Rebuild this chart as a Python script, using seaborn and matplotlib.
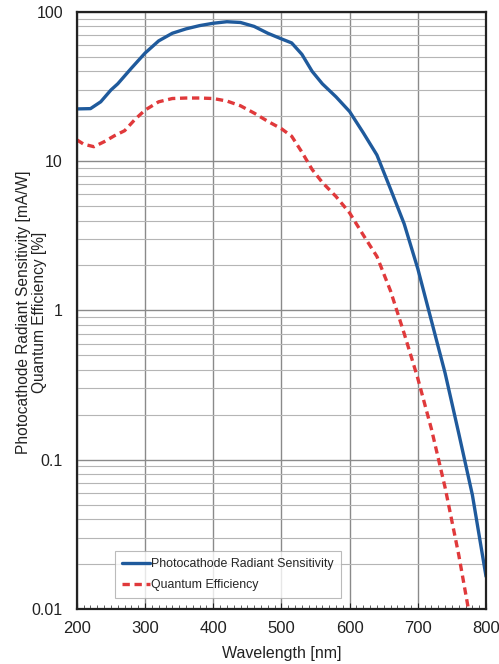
import numpy as np
import pandas as pd
import matplotlib
matplotlib.use("Agg")
import matplotlib.pyplot as plt
import seaborn as sns
from matplotlib.ticker import MultipleLocator, LogLocator, NullFormatter, FixedLocator

# Photocathode radiant sensitivity [mA/W]
wl_sens = [200, 220, 235, 250, 260, 280, 300, 320, 340, 360, 380, 400, 420, 440,
           460, 480, 500, 515, 530, 545, 560, 580, 600, 620, 640, 660, 680, 700,
           720, 740, 760, 780, 800]
sensitivity = [22.4, 22.5, 25, 30, 33, 42, 53, 64, 72, 77, 81, 84, 86, 85,
               80, 72, 66, 62, 52, 40, 33, 27, 21.5, 15.5, 11, 6.5, 3.8, 1.9,
               0.85, 0.38, 0.15, 0.058, 0.0165]

# Quantum efficiency [%]
wl_qe = [200, 210, 225, 240, 255, 270, 285, 300, 320, 340, 360, 380, 400, 420,
         440, 460, 480, 500, 515, 530, 545, 560, 580, 600, 620, 640, 660, 680,
         700, 720, 740, 760, 775]
quantum_eff = [13.9, 13, 12.5, 13.5, 14.8, 16, 19, 22, 25, 26.3, 26.5, 26.5, 26.3, 25.3,
               23.5, 21, 18.5, 16.5, 14.7, 11.5, 8.8, 7.2, 5.8, 4.5, 3.2, 2.3, 1.35, 0.7,
               0.35, 0.16, 0.065, 0.023, 0.0095]

x_ticks = [200, 300, 400, 500, 600, 700, 800]
y_ticks = [0.01, 0.1, 1, 10, 100]
y_ticklabels = ["0.01", "0.1", "1", "10", "100"]

sns.set_style("white")
plt.rcParams["font.family"] = ["Liberation Sans", "DejaVu Sans"]

fig = plt.figure(figsize=(4.99, 6.64), dpi=100)
ax = fig.add_axes([0.154, 0.083, 0.820, 0.899])

df_sens = pd.DataFrame({"wl": wl_sens, "val": sensitivity})
df_qe = pd.DataFrame({"wl": wl_qe, "val": quantum_eff})

sns.lineplot(data=df_sens, x="wl", y="val", ax=ax, color="#1f5a9c", lw=2.4,
             label="Photocathode Radiant Sensitivity")
sns.lineplot(data=df_qe, x="wl", y="val", ax=ax, color="#e0393b", lw=2.4,
             linestyle=(0, (2.2, 1.4)), label="Quantum Efficiency")

ax.set_yscale("log")
ax.set_xlim(200, 800)
ax.set_ylim(0.01, 100)

ax.xaxis.set_major_locator(FixedLocator(x_ticks))
ax.xaxis.set_minor_locator(MultipleLocator(10))
ax.yaxis.set_major_locator(FixedLocator(y_ticks))
ax.set_yticklabels(y_ticklabels)
ax.yaxis.set_minor_locator(LogLocator(base=10, subs=np.arange(2, 10)))
ax.yaxis.set_minor_formatter(NullFormatter())

ax.grid(which="major", axis="both", color="#8a8a8a", lw=1.0)
ax.grid(which="minor", axis="y", color="#b5b5b5", lw=0.8)
ax.set_axisbelow(True)

ax.tick_params(axis="y", which="both", length=0, pad=10, labelsize=11.5, colors="#222222")
ax.tick_params(axis="x", which="major", direction="in", length=4, pad=9,
               labelsize=12, colors="#222222", bottom=True)
ax.tick_params(axis="x", which="minor", direction="in", length=3, bottom=True, color="#444444")

for side in ["left", "bottom", "right", "top"]:
    ax.spines[side].set_color("#222222")
    ax.spines[side].set_linewidth(1.6)

ax.set_xlabel("Wavelength [nm]", fontsize=11.5, color="#222222", labelpad=7)
ax.set_ylabel("Photocathode Radiant Sensitivity [mA/W]\nQuantum Efficiency [%]",
              fontsize=11.2, color="#222222", linespacing=1.1)
ax.yaxis.label.set_va("center")
ax.yaxis.set_label_coords(-0.11, 0.497)

leg = ax.legend(loc="lower left", bbox_to_anchor=(0.093, 0.018), borderaxespad=0,
                fontsize=8.9, frameon=True, fancybox=False, edgecolor="#aaaaaa",
                handlelength=2.3, handletextpad=0.1, labelspacing=0.75, borderpad=0.55)
leg.get_frame().set_linewidth(0.8)

fig.savefig("out.png", dpi=100)
